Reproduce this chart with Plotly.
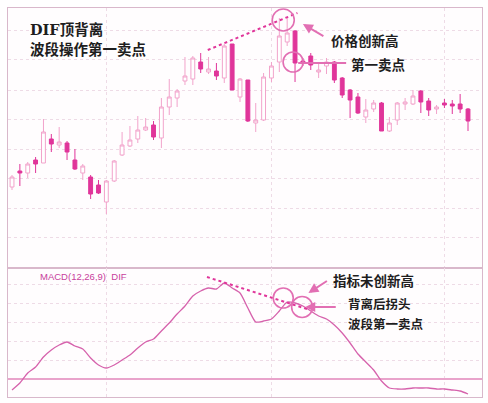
import plotly.graph_objects as go

# ---- data (arbitrary price units) ----
idx = list(range(59))
opens = [8.1, 9.7, 9.5, 10.8, 10.5, 12.9, 12.3, 12.5, 10.8, 9.5,
         9.1, 8.3, 6.6, 8.7, 11.3, 12.2, 12.9, 13.8, 14.3, 13.0,
         16.1, 17.0, 18.7, 18.9, 20.6, 19.6, 19.7, 19.0, 22.4, 17.1,
         18.8, 14.5, 14.8, 19.0, 20.6, 22.6, 23.7, 20.7, 21.2, 19.6,
         20.2, 20.6, 19.0, 17.8, 17.1, 15.1, 15.9, 16.5, 13.7, 14.8,
         16.4, 16.4, 17.7, 16.7, 15.9, 16.5, 16.4, 16.4, 15.9]
highs = [9.3, 10.4, 10.6, 11.1, 14.9, 13.4, 14.1, 12.7, 11.9, 10.4,
         9.3, 8.8, 8.8, 10.8, 13.6, 14.2, 15.2, 15.0, 14.7, 17.0,
         18.9, 17.9, 21.1, 21.2, 21.5, 21.1, 20.5, 22.4, 22.4, 19.0,
         18.8, 16.5, 19.5, 20.6, 25.0, 25.1, 23.8, 21.0, 21.5, 20.5,
         21.0, 20.7, 19.1, 17.9, 17.5, 16.9, 16.8, 16.6, 15.1, 16.6,
         17.0, 17.8, 17.8, 17.0, 16.3, 16.9, 16.8, 17.4, 16.0]
lows = [7.8, 8.2, 9.0, 9.5, 10.5, 11.6, 12.0, 10.8, 9.8, 8.8,
        6.9, 7.4, 5.4, 8.6, 11.2, 12.1, 12.5, 13.7, 12.8, 12.0,
        15.3, 16.1, 18.3, 18.3, 19.5, 19.4, 18.8, 18.5, 17.8, 16.6,
        14.6, 13.6, 14.7, 18.6, 19.6, 22.2, 18.6, 20.2, 19.8, 19.0,
        19.4, 18.5, 17.0, 15.0, 15.4, 14.5, 15.6, 13.7, 13.6, 14.3,
        15.8, 16.3, 15.5, 15.2, 15.4, 16.0, 15.4, 15.5, 13.7]
closes = [9.1, 9.5, 10.4, 10.4, 13.6, 12.4, 12.6, 11.6, 9.9, 10.2,
          7.4, 7.5, 8.7, 10.7, 12.3, 12.8, 13.8, 14.1, 13.1, 16.1,
          17.1, 17.7, 19.2, 21.0, 19.9, 19.9, 19.2, 22.2, 17.8, 18.9,
          14.7, 14.8, 19.1, 20.2, 23.2, 23.5, 20.5, 20.5, 20.3, 19.8,
          20.6, 18.8, 17.3, 16.8, 15.5, 15.8, 16.5, 13.7, 14.5, 16.5,
          16.6, 17.2, 16.6, 15.8, 16.1, 16.3, 16.2, 15.9, 14.7]
dif = [-0.11, -0.04, 0.06, 0.12, 0.22, 0.29, 0.34, 0.37, 0.33, 0.30,
       0.21, 0.14, 0.11, 0.14, 0.19, 0.24, 0.31, 0.37, 0.40, 0.48,
       0.56, 0.65, 0.73, 0.83, 0.88, 0.91, 0.90, 0.96, 0.91, 0.86,
       0.71, 0.57, 0.58, 0.60, 0.68, 0.77, 0.76, 0.73, 0.68, 0.63,
       0.60, 0.54, 0.46, 0.36, 0.25, 0.17, 0.09, -0.02, -0.09, -0.10,
       -0.10, -0.09, -0.09, -0.09, -0.10, -0.10, -0.11, -0.12, -0.15]

W, H = 488, 403
UP_LINE = "#f2a3cb"
DOWN = "#e0359a"
LINE = "#d662ac"
ACC = "#e26fb3"
GRID = "#eedbe6"
BORDER = "#d9b8cb"

def px(x):
    return x / W

def py(y):
    return 1 - y / H

fig = go.Figure()
fig.add_trace(go.Candlestick(
    x=idx, open=opens, high=highs, low=lows, close=closes,
    increasing=dict(line=dict(color=UP_LINE, width=1), fillcolor="white"),
    decreasing=dict(line=dict(color=DOWN, width=1), fillcolor=DOWN),
    whiskerwidth=0, xaxis="x", yaxis="y", showlegend=False, hoverinfo="skip"))
fig.add_trace(go.Scatter(
    x=idx, y=dif, mode="lines", line=dict(color=LINE, width=1.3, shape="spline", smoothing=0.6),
    xaxis="x2", yaxis="y2", showlegend=False, hoverinfo="skip"))

xr = [-0.51, 59.78]
xdom = [px(8), px(482)]
common_x = dict(range=xr, domain=xdom, showticklabels=False, ticks="",
                tickvals=[12, 33, 55], showgrid=True, gridcolor=GRID, griddash="dot",
                gridwidth=1, zeroline=False, showline=True, linecolor=BORDER, mirror=True,
                fixedrange=True)
fig.update_layout(
    width=W, height=H, margin=dict(l=0, r=0, t=0, b=0),
    paper_bgcolor="white", plot_bgcolor="#fffdfe",
    xaxis=dict(**common_x, anchor="y", rangeslider=dict(visible=False)),
    xaxis2=dict(**common_x, anchor="y2", matches="x"),
    yaxis=dict(domain=[py(268), py(8)], range=[0, 26], showticklabels=False,
               tickvals=[3.05, 6.0, 8.95, 11.9, 14.85, 17.8, 20.85, 23.8],
               showgrid=True, gridcolor=GRID, griddash="dot", zeroline=False,
               showline=True, linecolor=BORDER, mirror=True),
    yaxis2=dict(domain=[py(397), py(268)], range=[-0.18, 1.11], showticklabels=False,
                tickvals=[0.19, 0.38, 0.57, 0.76, 0.95],
                showgrid=True, gridcolor=GRID, griddash="dot",
                zeroline=True, zerolinecolor="#e9a3cb", zerolinewidth=1.5,
                showline=True, linecolor=BORDER, mirror=True),
)

# dotted divergence lines
fig.add_shape(type="line", xref="x", yref="y", x0=24.9, y0=21.8, x1=36.3, y1=25.5,
              line=dict(color=DOWN, width=2, dash="dot"))
fig.add_shape(type="line", xref="x2", yref="y2", x0=24.8, y0=1.02, x1=37.9, y1=0.69,
              line=dict(color=DOWN, width=2, dash="dot"))

# circles
def circle(xref, yref, cx, cy, r):
    fig.add_shape(type="circle", xref=xref, yref=yref, xsizemode="pixel", ysizemode="pixel",
                  xanchor=cx, yanchor=cy, x0=-r, x1=r, y0=-r, y1=r,
                  line=dict(color=ACC, width=1.6))

circle("x", "y", 34.5, 24.8, 11)
circle("x", "y", 35.75, 20.6, 10)
circle("x2", "y2", 34.5, 0.81, 10)
circle("x2", "y2", 36.9, 0.72, 10.5)

# pointer line for first sell point
fig.add_shape(type="line", xref="x", yref="y", x0=36.4, y0=20.5, x1=42.5, y1=20.5,
              line=dict(color=ACC, width=2))

# arrows
fig.add_annotation(x=37.0, y=24.4, xref="x", yref="y", ax=22, ay=13, text="",
                   showarrow=True, arrowhead=2, arrowsize=1, arrowwidth=2, arrowcolor=ACC)
fig.add_annotation(x=37.7, y=0.86, xref="x2", yref="y2", ax=20, ay=-13, text="",
                   showarrow=True, arrowhead=2, arrowsize=1, arrowwidth=2, arrowcolor=ACC)
fig.add_annotation(x=37.3, y=0.72, xref="x2", yref="y2", ax=32, ay=0, text="",
                   showarrow=True, arrowhead=2, arrowsize=1, arrowwidth=2, arrowcolor=ACC)

CJK = "Noto Sans CJK SC"
def label(text, x, y, size=13.5, color="#1e1e1e", family=CJK, bold=True):
    t = f"<b>{text}</b>" if bold else text
    fig.add_annotation(x=px(x), y=py(y), xref="paper", yref="paper", text=t,
                       showarrow=False, xanchor="left", yanchor="middle",
                       font=dict(size=size, color=color, family=family))

label("DIF顶背离", 28, 29, size=14.5, family="DejaVu Serif, " + CJK)
label("波段操作第一卖点", 28, 48, size=14.5)
label("价格创新高", 329, 40)
label("第一卖点", 349, 64)
label("指标未创新高", 331, 280)
label("背离后拐头", 346, 303.5, size=12.5)
label("波段第一卖点", 346, 323, size=12.5)
label("MACD(12,26,9)  DIF", 38, 276, size=9.5, color="#c8409c",
      family="Liberation Sans, Arial", bold=False)

fig.write_html("out.html")
